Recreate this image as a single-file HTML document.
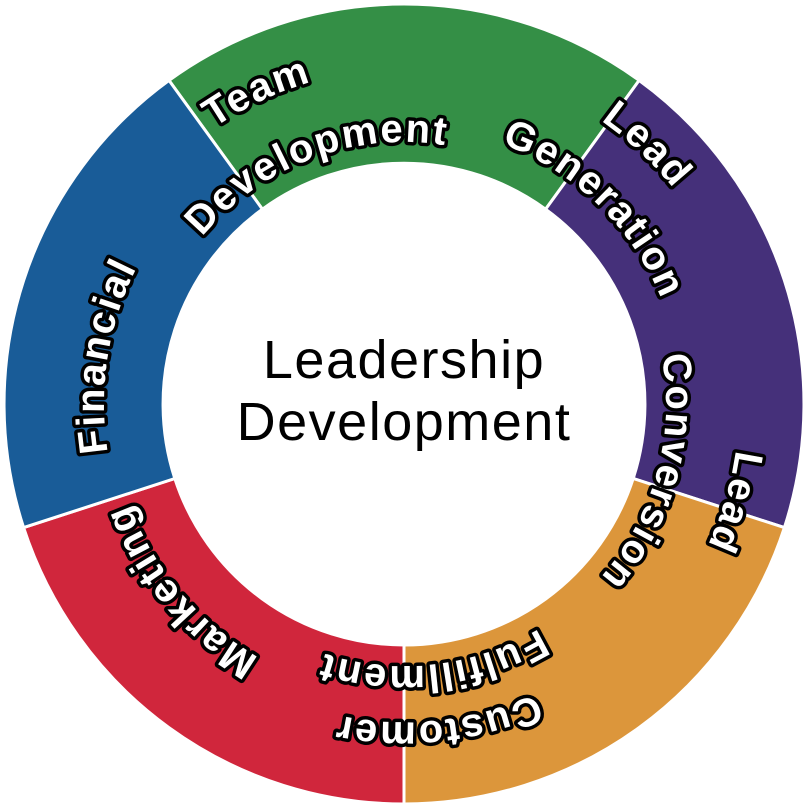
<!DOCTYPE html>
<html><head><meta charset="utf-8"><style>
html,body{margin:0;padding:0;background:#fff;}
svg{display:block;}
.l{font-family:"Liberation Sans",sans-serif;font-weight:bold;font-size:40px;fill:#fff;stroke:#000;stroke-width:7px;stroke-linejoin:round;paint-order:stroke;letter-spacing:2px;}
</style></head><body>
<svg width="808" height="808" viewBox="0 0 808 808" xmlns="http://www.w3.org/2000/svg">
<defs>
<path id="r345" d="M749,404 A345,345 0 1 1 59,404 A345,345 0 1 1 749,404"/>
<path id="r335" d="M739,404 A335,335 0 1 1 69,404 A335,335 0 1 1 739,404"/>
<path id="r318" d="M722,404 A318,318 0 1 1 86,404 A318,318 0 1 1 722,404"/>
<path id="r300" d="M704,404 A300,300 0 1 1 104,404 A300,300 0 1 1 704,404"/>
<path id="r292" d="M696,404 A292,292 0 1 1 112,404 A292,292 0 1 1 696,404"/>
<path id="r278" d="M682,404 A278,278 0 1 1 126,404 A278,278 0 1 1 682,404"/>
<path id="r262" d="M666,404 A262,262 0 1 1 142,404 A262,262 0 1 1 666,404"/>
<path id="b335" d="M69,404 A335,335 0 1 1 739,404 A335,335 0 1 1 69,404"/>
<path id="b262" d="M142,404 A262,262 0 1 1 666,404 A262,262 0 1 1 142,404"/>
</defs>
<g stroke="#fff" stroke-width="3">
<path fill="#348f46" d="M169.0,80.4 A400,400 0 0 1 639.1,80.4 L545.6,209.2 A241,241 0 0 0 262.4,209.2 Z"/>
<path fill="#45307a" d="M639.1,80.4 A400,400 0 0 1 784.4,527.6 L633.2,478.5 A241,241 0 0 0 545.6,209.2 Z"/>
<path fill="#dc963b" d="M784.4,527.6 A400,400 0 0 1 404,804 L404,645 A241,241 0 0 0 633.2,478.5 Z"/>
<path fill="#d0263c" d="M404,804 A400,400 0 0 1 23.6,527.6 L174.8,478.5 A241,241 0 0 0 404,645 Z"/>
<path fill="#195c98" d="M23.6,527.6 A400,400 0 0 1 169.0,80.4 L262.4,209.2 A241,241 0 0 0 174.8,478.5 Z"/>
</g>
<circle cx="404" cy="404" r="240" fill="#fff"/>
<g class="l" text-anchor="middle">
<text><textPath href="#r300" startOffset="52.5%">Financial</textPath></text>
<text><textPath href="#r335" startOffset="68.0%">Team</textPath></text>
<text><textPath href="#r262" startOffset="69.3%">Development</textPath></text>
<text><textPath href="#r345" startOffset="87.0%">Lead</textPath></text>
<text><textPath href="#r278" startOffset="87.3%">Generation</textPath></text>
<text><textPath href="#b335" startOffset="54.6%">Lead</textPath></text>
<text><textPath href="#b262" startOffset="54.3%">Conversion</textPath></text>
<text><textPath href="#r318" startOffset="23.3%">Customer</textPath></text>
<text><textPath href="#r262" startOffset="23.2%">Fulfillment</textPath></text>
<text><textPath href="#r292" startOffset="38.9%">Marketing</textPath></text>
</g>
<g font-family="Liberation Sans, sans-serif" font-size="54" fill="#000" text-anchor="middle" letter-spacing="1.5">
<text x="404" y="378">Leadership</text>
<text x="404" y="440">Development</text>
</g>
</svg>
</body></html>
